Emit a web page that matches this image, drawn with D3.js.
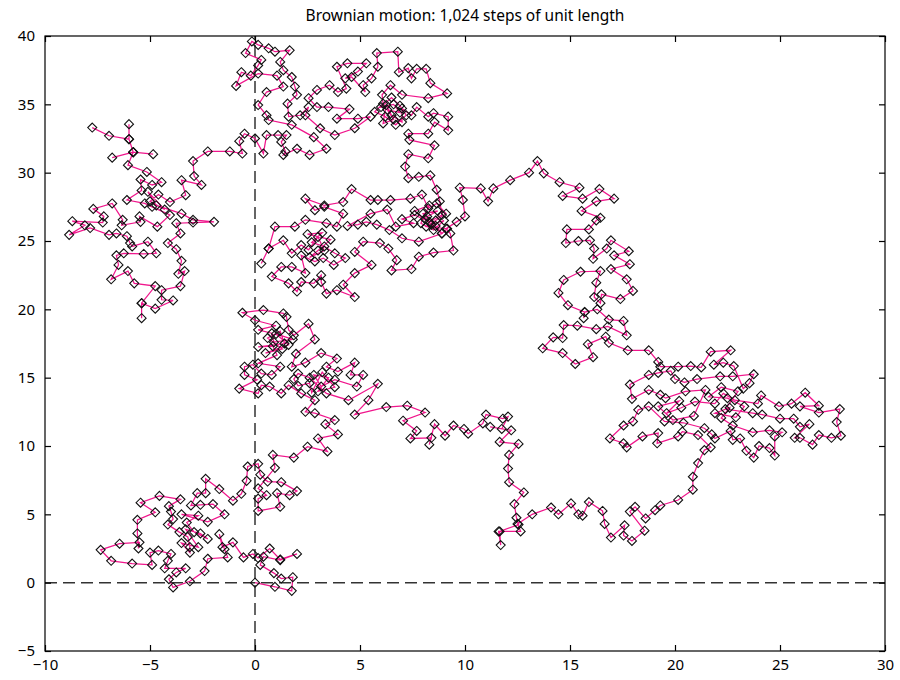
<!DOCTYPE html>
<html>
<head>
<meta charset="utf-8">
<script src="https://cdn.jsdelivr.net/npm/d3@7/dist/d3.min.js"></script>
<style>
  html, body { margin: 0; padding: 0; background: #fff; }
  svg text { font-family: "Noto Sans", "Open Sans", sans-serif; fill: #000; }
</style>
</head>
<body>
<svg id="chart" width="900" height="680"></svg>
<script>
// ---------- Data ----------
const title = 'Brownian motion: 1,024 steps of unit length';
const xTicks = [-10, -5, 0, 5, 10, 15, 20, 25, 30];
const yTicks = [-5, 0, 5, 10, 15, 20, 25, 30, 35, 40];

// origin cluster, then up along x = 0
const walkOrigin = [
  [0,0],[0.95,-0.3],[1.75,-0.6],[1.8,0.4],[1.25,0.3],[0.9,0.7],[0.25,1.3],[0.4,1.9],[1.2,1.65],[2.0,2.1],
  [1.2,1.7],[0.7,2.5],[0.15,1.8],[-0.1,2.1],[-0.55,1.85],[-1.05,2.95],[-1.55,2.6],[-1.7,3.55],[-1.45,2.45],[-1.3,1.85],
  [-2.25,1.75],[-2.4,0.85],[-3.1,0.1],[-3.9,-0.35],[-4.1,0.25],[-3.75,0.75],[-3.3,1.05],[-4.3,1.05],[-4.15,1.6],[-4.0,2.1],
  [-4.6,2.35],[-5.0,2.2],[-4.9,1.3],[-5.85,1.4],[-6.85,1.6],[-7.35,2.4],[-6.45,2.85],[-5.5,2.95],[-5.55,2.5],[-5.6,3.6],
  [-5.6,4.6],[-4.75,5.15],[-5.45,5.85],[-4.55,6.35],[-3.55,6.1],[-4.1,5.6],[-4.0,5.2],[-3.9,4.65],[-4.15,4.25],[-3.6,3.7],
  [-3.2,3.35],[-3.1,2.6],[-3.1,2.2],[-3.5,2.9],[-2.7,2.6],[-3.3,3.9],[-2.6,3.6],[-2.25,3.2],[-2.9,3.7],[-3.25,4.4],
  [-2.7,4.9],[-3.5,5.0],[-2.25,4.45],[-1.45,5.0],[-2.0,5.75],[-2.6,5.7],[-3.05,5.65],[-2.75,6.55],[-2.35,6.55],[-2.35,7.6],
  [-1.7,6.85],[-1.05,6.0],[-0.65,6.5],[-0.4,7.45],[-0.35,8.5],[0.15,8.7],[0.25,7.9],[0.6,7.4],[1.25,7.35],[2.0,6.7],
  [1.65,6.4],[1.05,6.55],[1.2,5.55],[0.15,5.25],[0.15,6.15],[0.55,6.4],[0.15,6.9],[0.95,8.4],[0.85,9.35],[1.85,9.15],
  [2.5,9.95],[3.45,9.6],[3.0,10.55],[3.95,10.85],[3.35,11.6],[3.8,11.9]
];

// cluster around (2, 16)
const walkMidLeft = [
  [2.85,12.4],[2.4,12.5],[2.85,13.35],[2.2,13.85],[1.6,14.45],[1.25,13.85],[0.7,14.35],[0.3,14.45],[0.15,13.85],[-0.75,14.2],
  [0.1,14.85],[-0.5,15.2],[-0.5,15.8],[-0.1,15.95],[0.3,15.3],[0.8,15.2],[1.2,15.8],[0.15,16.05],[1.05,16.65],[0.85,17.3],
  [0.15,17.25],[1.4,17.5],[1.2,18.4],[0.6,17.9],[1.3,17.1],[0.5,16.8],[1.6,17.4],[1.0,18.2],[1.8,17.8],[0.9,17.6],
  [0.8,18.25],[0.15,18.5],[1.0,18.8],[0.0,19.2],[-0.6,19.75],[0.4,19.95],[1.35,19.7],[1.5,19.45],[1.6,18.5],[1.85,18.1],
  [2.55,18.95],[2.85,17.8],[1.95,16.75],[1.75,15.8],[2.4,16.1],[3.15,16.8],[3.9,16.4],[3.4,15.8],[3.95,15.45],[4.75,16.1],
  [4.55,15.2],[5.15,15.2],[4.85,14.35],[3.8,14.85],[3.15,14.35],[2.8,15.2],[3.5,15.0],[3.0,14.0],[3.8,14.3],[3.2,15.4],
  [2.7,13.9],[2.6,14.6],[2.05,14.4],[1.85,14.9],[2.05,15.3],[2.6,15.0],[3.4,13.85],[4.45,13.35],[5.85,14.55],[5.4,13.35],
  [4.75,12.3]
];

// east along y ~ 12, down x ~ 12, east along the bottom
const walkLowChain = [
  [6.25,12.85],[7.25,12.95],[8.1,12.45],[7.05,11.85],[7.7,11.1],[7.4,10.55],[8.4,10.6],[8.3,10.1],[8.55,11.6],[9.05,10.75],
  [9.45,11.5],[9.95,11.25],[10.15,10.9],[10.85,11.65],[11.0,12.3],[11.8,12.0],[12.05,12.15],[11.75,11.25],[11.2,11.4],[12.2,11.15],
  [11.65,10.3],[12.55,10.15],[12.1,9.35],[12.05,8.35],[12.1,7.35],[12.8,6.6],[12.35,5.75],[12.45,4.75],[12.55,4.25],[11.65,3.75],
  [11.7,2.75],[11.6,3.75],[12.65,3.75],[12.5,4.3],[13.2,5.0],[14.1,5.5],[14.45,5.0],[15.05,5.8],[15.4,5.0],[15.6,4.9],
  [15.9,5.9],[16.55,5.25],[16.65,4.3],[16.95,3.3],[17.6,4.2],[17.55,3.45],[17.95,3.05],[18.55,3.8],[17.85,5.2],[18.1,5.55],
  [18.6,4.7],[19.05,5.3],[19.3,5.65],[20.15,6.05],[20.85,6.8],[20.85,7.75],[21.1,8.75],[21.4,9.7]
];

// cluster on the right (18..28, 9..17)
const walkRight = [
  [21.7,9.9],[21.1,10.8],[20.35,11.05],[20.15,10.7],[19.15,10.2],[19.2,10.95],[18.45,10.7],[17.7,9.9],[17.55,10.2],[16.9,10.55],
  [17.55,11.5],[18.0,11.8],[18.25,12.65],[18.75,12.9],[19.5,11.8],[20.4,11.7],[21.4,11.3],[21.75,10.85],[21.9,10.55],[22.65,11.1],
  [22.75,10.45],[23.1,10.55],[23.4,9.65],[23.75,9.15],[24.0,10.0],[24.5,9.85],[24.75,9.3],[24.75,10.7],[25.1,11.0],[24.5,11.15],
  [23.7,11.0],[22.75,11.5],[22.2,12.05],[22.6,12.8],[21.9,12.4],[22.9,12.1],[23.3,12.9],[22.5,13.5],[21.6,13.6],[22.2,14.3],
  [23.0,14.0],[22.4,12.7],[23.7,12.4],[24.15,12.3],[25.0,12.0],[25.65,12.0],[25.95,11.4],[26.4,11.6],[25.7,10.6],[25.95,10.6],
  [26.55,10.1],[26.85,10.8],[27.45,10.6],[27.9,10.75],[27.7,11.75],[27.85,12.7],[26.85,12.45],[25.95,12.9],[26.85,12.95],[26.2,13.9],
  [25.55,13.1],[24.95,12.9],[24.1,13.7],[23.95,13.1],[22.85,13.35],[22.3,13.85],[21.9,13.1],[20.95,13.25],[20.3,12.8],[19.6,12.4],
  [20.2,13.3],[19.2,12.9],[19.9,11.9],[20.9,12.2],[21.45,14.1],[20.5,14.0],[19.55,13.5],[19.3,13.75],[18.75,14.1],[17.95,13.45],
  [17.85,14.5],[18.75,15.2],[19.2,15.35],[19.8,15.5],[20.0,14.9],[20.45,14.65],[21.05,14.9],[22.15,15.1],[22.75,15.1],[23.75,15.25],
  [23.55,14.6],[23.25,14.2],[22.8,15.85],[22.3,16.1],[21.85,15.95],[22.65,17.0],[21.7,16.9],[21.25,15.75],[20.75,15.85],[20.15,15.8],
  [19.3,15.8],[19.2,16.15]
];

// up through (16, 20) and back west over the hump at (13.4, 31)
const walkUp = [
  [18.75,17.0],[17.75,17.0],[16.85,17.55],[16.7,18.0],[15.85,17.45],[16.1,16.5],[15.25,16.0],[14.65,16.8],[13.7,17.15],[14.2,17.95],
  [14.65,17.9],[14.7,18.85],[15.35,18.8],[16.25,18.55],[16.8,18.75],[17.7,18.1],[17.55,19.15],[16.85,19.25],[16.3,20.0],[15.7,19.8],
  [15.65,19.35],[15.7,19.8],[14.9,20.3],[14.45,21.2],[14.7,22.15],[15.5,22.75],[16.45,22.8],[16.25,21.95],[16.15,20.9],[16.45,20.45],
  [16.5,21.1],[17.4,20.75],[18.0,21.35],[17.7,22.2],[16.95,22.95],[17.85,23.3],[17.1,23.95],[17.8,24.25],[16.95,25.05],[16.75,24.45],
  [16.1,23.7],[16.15,24.45],[15.95,25.05],[15.4,25.0],[14.8,24.85],[14.85,25.85],[15.9,25.85],[16.25,26.5],[16.45,26.7],[15.55,27.2],
  [16.25,27.9],[17.1,28.1],[16.4,28.8],[15.6,28.1],[14.65,28.3],[15.45,28.9],[14.5,29.3],[13.75,29.95],[13.45,30.85],[13.05,30.0],
  [12.15,29.45],[11.35,28.85],[11.1,27.9],[10.75,28.85],[9.75,28.9]
];

// cluster around (5, 25)
const walkMidUpper = [
  [9.9,28.0],[10.0,26.8],[9.6,26.4],[9.1,25.9],[9.3,25.55],[9.45,24.3],[8.5,24.15],[7.8,23.85],[7.45,22.95],[6.5,22.85],
  [6.75,23.6],[6.35,24.45],[5.95,24.85],[5.15,24.95],[4.75,24.2],[5.55,23.25],[4.75,22.65],[4.2,21.8],[4.75,20.9],[3.9,21.4],
  [3.4,21.15],[3.15,22.0],[3.15,22.5],[2.8,21.9],[2.2,22.0],[2.0,21.3],[1.6,21.9],[0.8,22.4],[1.25,23.1],[1.75,23.1],
  [2.4,22.65],[2.2,23.95],[2.85,23.5],[3.25,23.75],[3.75,23.25],[4.3,23.75],[3.8,24.1],[3.3,24.6],[2.7,24.9],[3.2,25.6],
  [2.5,25.5],[3.6,25.1],[3.0,24.3],[2.6,23.8],[3.3,24.3],[3.0,25.3],[2.55,24.35],[2.2,24.7],[1.75,24.1],[1.35,25.05],
  [0.65,24.45],[0.3,23.35],[0.65,24.45],[0.95,26.05],[1.9,26.05],[2.4,26.55],[3.4,26.3],[3.9,26.05],[4.2,27.0],[3.3,27.5],
  [2.85,27.25],[2.4,28.1],[3.3,27.6],[4.2,27.85],[4.6,28.8],[5.5,28.0],[5.85,28.0],[6.45,28.0],[7.4,28.1],[7.95,28.4],
  [8.25,27.4],[8.65,27.75],[9.1,27.0],[8.6,26.5],[8.15,26.05],[9.15,25.9],[8.9,25.55],[8.6,26.1],[8.2,26.8],[8.7,27.2],
  [8.0,27.0],[8.4,26.2],[9.0,26.5],[8.5,25.8],[7.9,26.3],[8.3,27.6],[7.6,27.2],[8.1,26.6],[8.9,25.55],[7.8,24.95],
  [7.0,25.2],[6.4,25.8],[5.8,26.2],[5.3,26.4],[4.9,26.2],[4.4,26.1],[5.5,27.0],[6.3,27.3],[6.7,26.05],[7.55,26.3],
  [7.0,26.6],[7.6,26.9],[8.3,26.4],[8.9,26.9],[8.8,27.9]
];

// cluster at the top (0..9, 30..40)
const walkTop = [
  [8.65,28.75],[8.35,29.8],[7.8,29.7],[7.3,29.6],[7.15,30.45],[7.3,31.35],[8.25,31.05],[8.55,32.0],[7.35,32.4],[7.3,32.85],
  [8.25,32.85],[8.55,33.7],[9.2,33.1],[9.2,34.1],[8.5,34.35],[8.25,34.1],[7.7,34.8],[7.45,34.2],[7.0,34.7],[7.0,33.7],
  [6.5,34.2],[6.25,34.95],[6.1,33.6],[6.6,33.9],[6.3,34.6],[6.9,34.4],[6.6,35.0],[6.0,34.8],[6.5,35.5],[6.9,34.9],
  [7.2,34.2],[6.7,33.5],[6.2,34.1],[5.7,34.45],[6.1,35.05],[6.05,35.7],[6.45,36.4],[7.0,35.7],[8.25,35.45],[9.15,35.8],
  [8.35,36.55],[8.15,37.6],[7.7,37.6],[7.45,36.9],[7.3,37.65],[6.85,37.35],[6.8,38.85],[5.8,38.75],[5.85,37.75],[5.55,36.9],
  [5.15,36.4],[5.25,35.9],[4.6,37.0],[4.3,36.9],[4.9,37.4],[5.3,38.0],[4.4,38.0],[3.9,37.75],[4.35,36.15],[3.95,35.9],
  [3.55,36.4],[2.95,36.05],[2.55,35.45],[2.95,34.8],[3.5,34.8],[4.5,34.65],[3.9,33.95],[4.9,33.95],[5.5,34.1],[4.75,33.25],
  [3.8,32.75],[3.1,33.25],[2.4,34.2],[2.55,34.8],[2.15,34.2],[1.6,34.1],[1.55,35.05],[2.0,35.7],[1.9,36.3],[1.75,37.0],
  [1.35,37.5],[1.2,38.1],[1.65,38.95],[0.95,38.85],[0.65,39.1],[0.15,39.35],[-0.15,39.6],[-0.45,38.75],[0.3,38.25],[0.15,37.85],
  [-0.2,37.1],[-0.65,37.35],[-0.9,36.35],[0.15,37.25],[1.05,37.1],[1.35,36.3],[0.55,35.9],[0.15,34.95],[0.55,34.2],[0.65,33.85],
  [1.75,33.5],[2.8,32.6],[3.4,31.75],[2.6,31.3],[2.0,31.75],[1.35,31.3],[1.45,31.55],[1.25,32.25],[1.5,32.75],[1.1,32.75],
  [0.55,32.75],[0.4,31.4],[0,32.5],[-0.5,32.85],[-0.75,32.3],[-0.6,31.4],[-1.2,31.55],[-2.25,31.55],[-2.95,30.85],[-2.9,29.75],
  [-2.55,29.1],[-3.5,29.45]
];

// cluster on the left (-9..-2, 19..34), where the walk ends
const walkLeft = [
  [-3.3,28.35],[-4.05,27.85],[-4.6,28.4],[-5.0,27.9],[-4.3,27.3],[-5.1,28.6],[-4.7,27.6],[-3.5,27.0],[-2.95,26.55],[-1.95,26.4],
  [-2.95,26.35],[-3.75,26.3],[-3.55,25.55],[-4.15,24.85],[-3.75,24.4],[-3.5,23.55],[-3.65,22.6],[-3.35,22.8],[-3.55,21.7],[-4.45,21.4],
  [-4.45,20.7],[-3.9,20.65],[-4.75,20.05],[-5.4,20.45],[-5.4,19.35],[-5.4,20.45],[-4.75,21.7],[-5.75,21.9],[-6.05,22.8],[-6.85,22.2],
  [-6.5,23.25],[-6.6,23.95],[-6.25,24.1],[-5.3,24.05],[-4.7,24.1],[-5.1,24.95],[-5.85,24.6],[-5.95,24.85],[-6.1,25.35],[-6.6,25.55],
  [-6.95,25.45],[-7.85,25.95],[-8.85,25.45],[-8.1,26.15],[-8.7,26.45],[-7.25,26.35],[-7.2,26.8],[-7.7,27.35],[-6.8,27.75],[-6.3,26.55],
  [-6.35,26.15],[-5.45,26.4],[-5.5,26.8],[-4.65,26.05],[-4.05,26.9],[-4.9,27.5],[-5.25,27.75],[-6.1,28.0],[-5.4,28.7],[-5.45,29.5],
  [-4.9,29.1],[-4.45,29.3],[-5.15,30.05],[-6.05,30.55],[-5.8,31.5],[-4.85,31.35],[-5.8,31.5],[-6.8,31.1],[-5.8,31.5],[-6.0,32.45],
  [-6.0,33.55],[-6.0,32.45],[-6.95,32.7],[-7.75,33.3]
];

const walk = [].concat(walkOrigin, walkMidLeft, walkLowChain, walkRight, walkUp, walkMidUpper, walkTop, walkLeft);

// ---------- Chart ----------
const W = 900, H = 680;
const m = { t: 36, r: 15, b: 29, l: 45 };
const svg = d3.select('#chart');

const x = d3.scaleLinear().domain([-10, 30]).range([m.l, W - m.r]);
const y = d3.scaleLinear().domain([-5, 40]).range([H - m.b, m.t]);

const fmt = d => d < 0 ? '\u2212' + Math.abs(d) : String(d);

// dashed zero lines
svg.append('line')
  .attr('x1', x(0)).attr('x2', x(0)).attr('y1', y(-5)).attr('y2', y(40))
  .attr('stroke', '#333').attr('stroke-width', 1.5).attr('stroke-dasharray', '12,6');
svg.append('line')
  .attr('x1', x(-10)).attr('x2', x(30)).attr('y1', y(0)).attr('y2', y(0))
  .attr('stroke', '#333').attr('stroke-width', 1.5).attr('stroke-dasharray', '12,6');

// the walk
const line = d3.line().x(d => x(d[0])).y(d => y(d[1]));
svg.append('path')
  .datum(walk)
  .attr('d', line)
  .attr('fill', 'none')
  .attr('stroke', '#f0168c')
  .attr('stroke-width', 1.25);

const diamond = 'M0,-4.5L4.5,0L0,4.5L-4.5,0Z';
svg.append('g').selectAll('path').data(walk).join('path')
  .attr('d', diamond)
  .attr('transform', d => `translate(${x(d[0])},${y(d[1])})`)
  .attr('fill', 'none')
  .attr('stroke', '#111')
  .attr('stroke-width', 1.1);

// axes, ticks inward on all sides
const axB = svg.append('g').attr('transform', `translate(0,${H - m.b})`)
  .call(d3.axisBottom(x).tickValues(xTicks).tickSizeInner(-6).tickSizeOuter(0).tickPadding(8).tickFormat(fmt));
const axT = svg.append('g').attr('transform', `translate(0,${m.t})`)
  .call(d3.axisTop(x).tickValues(xTicks).tickSizeInner(-6).tickSizeOuter(0).tickFormat(''));
const axL = svg.append('g').attr('transform', `translate(${m.l},0)`)
  .call(d3.axisLeft(y).tickValues(yTicks).tickSizeInner(-6).tickSizeOuter(0).tickPadding(10).tickFormat(fmt));
const axR = svg.append('g').attr('transform', `translate(${W - m.r},0)`)
  .call(d3.axisRight(y).tickValues(yTicks).tickSizeInner(-6).tickSizeOuter(0).tickFormat(''));

[axB, axT, axL, axR].forEach(g => {
  g.select('.domain').remove();
  g.selectAll('.tick line').attr('stroke', '#000').attr('stroke-width', 1.2);
  g.selectAll('.tick text').style('font-size', '15px').style('font-family', '"Noto Sans", sans-serif').attr('fill', '#000');
});

// frame
svg.append('rect')
  .attr('x', m.l).attr('y', m.t)
  .attr('width', W - m.r - m.l).attr('height', H - m.b - m.t)
  .attr('fill', 'none').attr('stroke', '#000').attr('stroke-width', 1.2);

// title
svg.append('text')
  .attr('x', (m.l + W - m.r) / 2).attr('y', 21)
  .attr('text-anchor', 'middle')
  .style('font-size', '15.5px')
  .text(title);
</script>
</body>
</html>
